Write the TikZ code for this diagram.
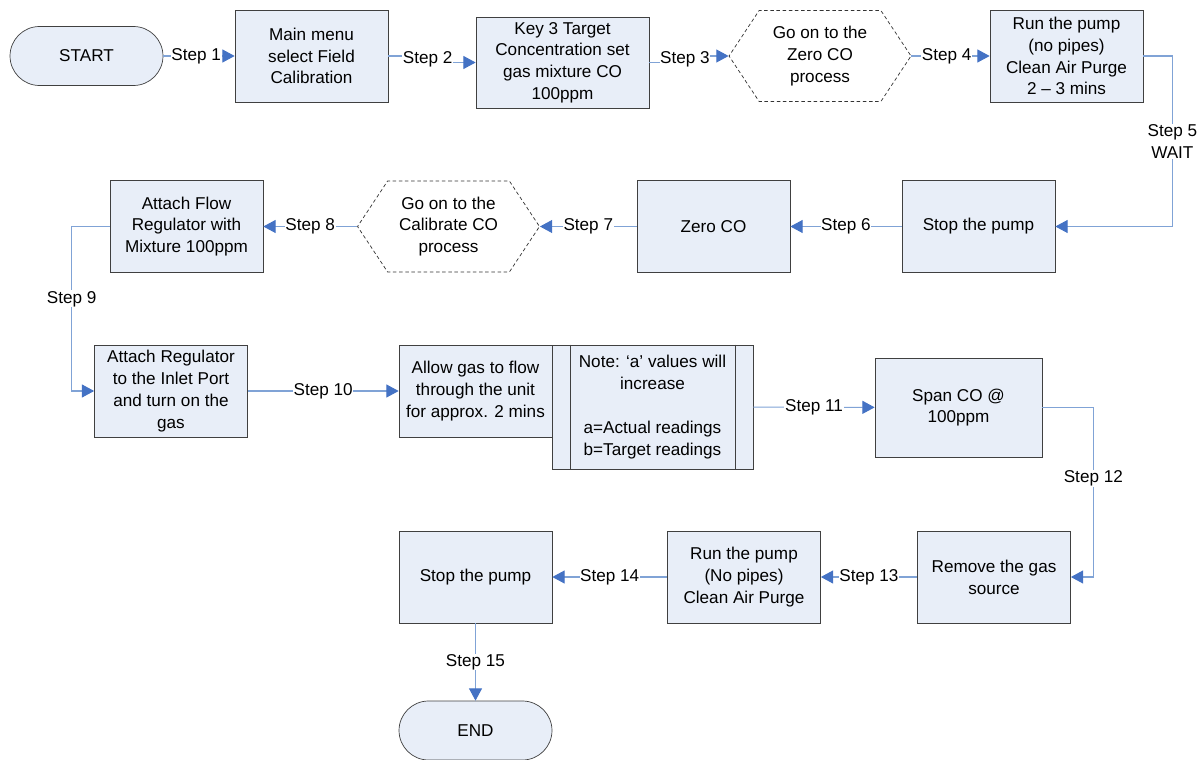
\documentclass[tikz,border=0pt]{standalone}
\usepackage{fontspec}
\setmainfont{Liberation Sans}
\usepackage{tikz}
\usetikzlibrary{arrows.meta,calc,shapes.symbols}
\definecolor{cffill}{RGB}{232,238,248}
\definecolor{cfedge}{RGB}{64,64,64}
\definecolor{cfline}{RGB}{128,163,214}
\definecolor{cfhead}{RGB}{68,114,196}

\begin{document}
\begin{tikzpicture}[
  x=0.02cm,
  y=-0.02cm,
  every node/.style={
    font=\fontsize{9.75}{12.4}\selectfont
  },
  box/.style={
    draw=cfedge,
    fill=cffill,
    align=center,
    minimum width=3.06cm,
    minimum height=1.84cm,
    inner sep=2pt
  },
  term/.style={
    box,
    minimum height=1.18cm,
    rounded corners=0.59cm
  },
  hexa/.style={
    shape=signal,
    signal to=east and west,
    signal pointer angle=113,
    draw=black!80,
    dash pattern=on 2pt off 1.5pt,
    fill=white,
    align=center,
    minimum width=3.64cm,
    minimum height=1.82cm,
    inner sep=2pt
  },
  lbl/.style={
    fill=white,
    align=center,
    inner sep=0.4pt
  },
  arr/.style={
    draw=cfline,
    line width=0.6pt,
    -{Triangle[length=7pt,width=7.4pt,color=cfhead]}
  }
]

\useasboundingbox (0,0) rectangle (1200,760);

\node[term] (start) at (86.5,56) {START};

\node[box] (menu) at (311.5,56) {Main menu\\select Field\\Calibration};

\node[box, minimum width=3.46cm, minimum height=1.82cm] (key) at (562.5,62.5)
{Key 3 Target\\Concentration set\\gas mixture CO\\100ppm};

\node[hexa] (zerogo) at (820,56) {Go on to the\\Zero CO\\process};

\node[box] (purge) at (1066.5,56) {Run the pump\\(no pipes)\\Clean Air Purge\\2 -- 3 mins};

\node[box] (stopa) at (978.5,226.5) {Stop the pump};

\node[box] (zero) at (713.5,226.5) {Zero CO};

\node[hexa] (calgo) at (448.5,226.5) {Go on to the\\Calibrate CO\\process};

\node[box] (flow) at (186.5,226.5) {Attach Flow\\Regulator with\\Mixture 100ppm};

\node[box] (inlet) at (171,391) {Attach Regulator\\to the Inlet Port\\and turn on the\\gas};

\node[box] (allow) at (475.5,391) {Allow gas to flow\\through the unit\\for approx. 2 mins};

\node[box, minimum width=4.02cm, minimum height=2.48cm] (note) at (652.5,407)
{Note: ‘a’ values will\\increase\\[12.4pt]a=Actual readings\\b=Target readings};

\node[box, minimum width=3.34cm, minimum height=1.98cm] (span) at (958.5,407.5) {Span CO @\\100ppm};

\node[box] (remove) at (994,577) {Remove the gas\\source};

\node[box] (purgeb) at (744,577) {Run the pump\\(No pipes)\\Clean Air Purge};

\node[box] (stopb) at (475.5,577) {Stop the pump};

\node[term] (end) at (475.5,730.5) {END};

\draw[cfedge] ([xshift=0.38cm]note.north west) -- ([xshift=0.38cm]note.south west);
\draw[cfedge] ([xshift=-0.36cm]note.north east) -- ([xshift=-0.36cm]note.south east);

\draw[arr] (start) -- node[lbl, pos=0.46]{Step 1} (menu);
\draw[arr] (menu.east) -| ($(menu.east)!.45!(key.west)$) node[lbl]{Step 2} |- (key.west);
\draw[arr] (key.east) -| ($(key.east)!.45!(zerogo.west)$) node[lbl]{Step 3} |- (zerogo.west);
\draw[arr] (zerogo.east) -- node[lbl, pos=0.45]{Step 4} (purge.west);
\draw[arr] (purge.east) -- ++(29,0) |- node[lbl, pos=0.25]{Step 5\\WAIT} (stopa.east);

\draw[arr] (stopa) -- node[lbl]{Step 6} (zero);
\draw[arr] (zero) -- node[lbl]{Step 7} (calgo.east);
\draw[arr] (calgo.west) -- node[lbl]{Step 8} (flow);
\draw[arr] (flow.west) -- ++(-38,0) |- node[lbl, pos=0.22]{Step 9} (inlet.west);

\draw[arr] (inlet) -- node[lbl]{Step 10} (allow);
\draw[arr] (note) -- node[lbl]{Step 11} (span);
\draw[arr] (span.east) -- ++(51,0) |- node[lbl, pos=0.21]{Step 12} (remove.east);

\draw[arr] (remove) -- node[lbl]{Step 13} (purgeb);
\draw[arr] (purgeb) -- node[lbl]{Step 14} (stopb);
\draw[arr] (stopb) -- node[lbl]{Step 15} (end);

\end{tikzpicture}
\end{document}
